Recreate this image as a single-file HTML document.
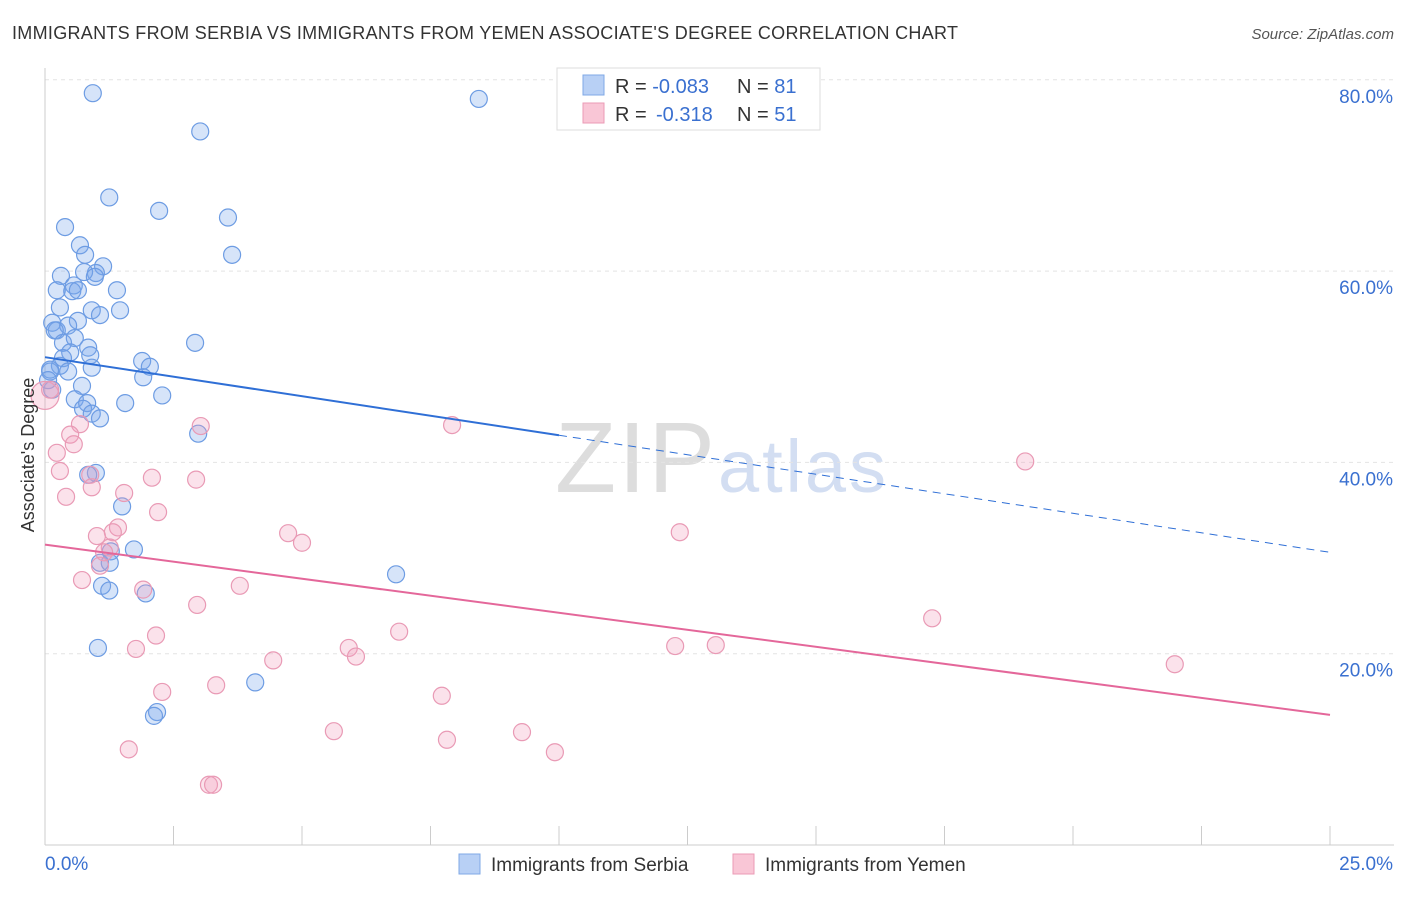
<!DOCTYPE html>
<html><head><meta charset="utf-8"><style>
body{margin:0;background:#fff;font-family:"Liberation Sans",sans-serif;}
svg text{font-family:"Liberation Sans",sans-serif;}
</style></head><body>
<svg id="chart" width="1406" height="892">
<text x="12" y="39" font-size="18" fill="#333" textLength="946">IMMIGRANTS FROM SERBIA VS IMMIGRANTS FROM YEMEN ASSOCIATE'S DEGREE CORRELATION CHART</text>
<text x="1394" y="39" font-size="15" fill="#555" font-style="italic" text-anchor="end">Source: ZipAtlas.com</text>
<text x="715" y="492" font-size="100" fill="#ddd" text-anchor="end" textLength="160" font-family="Liberation Serif">ZIP</text>
<text x="718" y="492" font-size="74" fill="#d3def2" textLength="168">atlas</text>
<g id="grid"></g><g id="axes"></g><g id="pts"></g><g id="trends"></g>
<text transform="translate(34,455) rotate(-90)" font-size="18" fill="#333" text-anchor="middle">Associate's Degree</text>
<g>
<rect x="557" y="68" width="263" height="62" fill="#fff" stroke="#ddd"/>
<rect x="583" y="75" width="21" height="20" fill="#b8d0f5" stroke="#7fa8e6"/>
<rect x="583" y="103" width="21" height="20" fill="#f9c6d6" stroke="#eb9bb6"/>
<text x="615" y="93" font-size="20" fill="#333">R = <tspan fill="#3a70d0">-0.083</tspan><tspan x="737">N = </tspan><tspan fill="#3a70d0">81</tspan></text>
<text x="615" y="121" font-size="20" fill="#333">R = <tspan x="656" fill="#3a70d0">-0.318</tspan><tspan x="737">N = </tspan><tspan fill="#3a70d0">51</tspan></text>
</g>
<g>
<rect x="459" y="854" width="21" height="20" fill="#b8d0f5" stroke="#7fa8e6"/>
<text x="491" y="871" font-size="19" fill="#333">Immigrants from Serbia</text>
<rect x="733" y="854" width="21" height="20" fill="#f9c6d6" stroke="#eb9bb6"/>
<text x="765" y="871" font-size="19" fill="#333">Immigrants from Yemen</text>
</g>
</svg>
<script>
const yTicks=[20,40,60,80];
const yTickLabels=["20.0%","40.0%","60.0%","80.0%"];
const xTickLabels=["0.0%","25.0%"];
const serbiaX=[0.93,8.44,3.02,1.25,2.22,3.56,0.39,3.64,0.68,0.78,0.31,1.13,0.99,0.76,0.97,0.23,0.56,0.53,0.64,1.40,0.91,0.29,1.07,1.46,0.64,0.14,0.23,0.45,0.19,0.35,0.58,0.84,2.92,0.49,0.88,0.35,1.89,2.04,0.29,0.91,0.45,1.91,0.10,0.72,0.14,2.28,0.58,0.82,1.56,0.74,0.91,1.07,2.98,0.99,0.84,1.50,1.28,1.73,1.07,1.26,6.83,1.11,1.25,1.96,1.03,4.09,2.18,2.12,0.10,0.06];
const serbiaY=[78.6,78.0,74.6,67.7,66.3,65.6,64.6,61.7,62.7,61.7,59.5,60.5,59.8,59.9,59.4,58.0,58.5,57.9,58.0,58.0,55.9,56.2,55.4,55.9,54.8,54.6,53.8,54.3,53.8,52.5,53.0,52.0,52.5,51.5,51.2,50.9,50.6,50.0,50.1,49.9,49.5,48.9,49.5,48.0,47.6,47.0,46.6,46.2,46.2,45.6,45.1,44.6,43.0,38.9,38.7,35.4,30.7,30.9,29.5,29.5,28.3,27.1,26.6,26.3,20.6,17.0,13.9,13.5,49.7,48.6];
const yemenX=[0,0.10,7.92,3.03,0.68,0.49,0.56,0.23,19.07,0.29,2.08,2.94,0.88,0.91,1.54,0.41,2.20,1.42,1.32,1.01,4.73,5.00,12.35,1.26,1.15,1.07,0.72,1.91,3.79,2.96,17.26,2.16,6.89,5.91,1.77,12.26,13.05,6.05,4.44,21.98,2.28,3.33,7.72,5.62,9.28,7.82,1.63,9.92,3.19,3.27];
const yemenY=[47.0,47.6,43.9,43.8,44.0,42.9,41.9,41.0,40.1,39.1,38.4,38.2,38.7,37.4,36.8,36.4,34.8,33.2,32.7,32.3,32.6,31.6,32.7,31.1,30.6,29.2,27.7,26.7,27.1,25.1,23.7,21.9,22.3,20.6,20.5,20.8,20.9,19.7,19.3,18.9,16.0,16.7,15.6,11.9,11.8,11.0,10.0,9.7,6.3,6.3];
const serbiaTrend=[51.0,30.6];
const yemenTrend=[31.4,13.6];
const NS='http://www.w3.org/2000/svg';
const X0=45,X1=1330,Y0=845,PPY=9.565;
function sx(v){return X0+(X1-X0)*v/25;}
function sy(v){return Y0-v*PPY;}
function mk(tag,attrs,parent){const e=document.createElementNS(NS,tag);for(const k in attrs)e.setAttribute(k,attrs[k]);document.getElementById(parent).appendChild(e);return e;}
yTicks.forEach((t,i)=>{
 const g=mk('line',{x1:X0,x2:1394,y1:sy(t),y2:sy(t),stroke:'#e4e4e4','stroke-dasharray':'4,4'},'grid');
 
 
 const l=mk('text',{x:1393,y:sy(t)+23,'font-size':19,fill:'#3a70d0','text-anchor':'end'},'axes');
 l.textContent=yTickLabels[i];
 
 
});
const ax=mk('line',{x1:X0,x2:X0,y1:68,y2:Y0,stroke:'#ccc'},'axes');


const bx=mk('line',{x1:X0,x2:1394,y1:Y0,y2:Y0,stroke:'#ccc'},'axes');


for(let i=0;i<=10;i++){
 const t=mk('line',{x1:sx(i*2.5),x2:sx(i*2.5),y1:826,y2:Y0,stroke:'#ccc'},'axes');
 
 
}
[[0,'start',45],[25,'end',1393]].forEach((d,i)=>{
 const l=mk('text',{x:d[2],y:870,'font-size':19,fill:'#3a70d0','text-anchor':d[1]},'axes');
 l.textContent=xTickLabels[i];
 
 
});
serbiaX.forEach((v,i)=>{
 const c=mk('circle',{cx:sx(v),cy:sy(serbiaY[i]),r:8.5,fill:'rgba(120,165,235,0.3)',stroke:'#6d9ce3','stroke-width':1.2},'pts');
 
 
});
yemenX.forEach((v,i)=>{
 const c=mk('circle',{cx:sx(v),cy:sy(yemenY[i]),r:i===0?14:8.5,fill:'rgba(242,160,190,0.3)',stroke:'#e99ab5','stroke-width':1.2},'pts');
 
 
});
const sl=(serbiaTrend[1]-serbiaTrend[0])/25;
const t1=mk('line',{x1:sx(0),y1:sy(serbiaTrend[0]),x2:sx(10),y2:sy(serbiaTrend[0]+sl*10),stroke:'#2f6fd6','stroke-width':2},'trends');


const t2=mk('line',{x1:sx(10),y1:sy(serbiaTrend[0]+sl*10),x2:sx(25),y2:sy(serbiaTrend[1]),stroke:'#2f6fd6','stroke-width':1,'stroke-dasharray':'8,6'},'trends');


const t3=mk('line',{x1:sx(0),y1:sy(yemenTrend[0]),x2:sx(25),y2:sy(yemenTrend[1]),stroke:'#e4679a','stroke-width':2},'trends');


</script>
</body></html>
